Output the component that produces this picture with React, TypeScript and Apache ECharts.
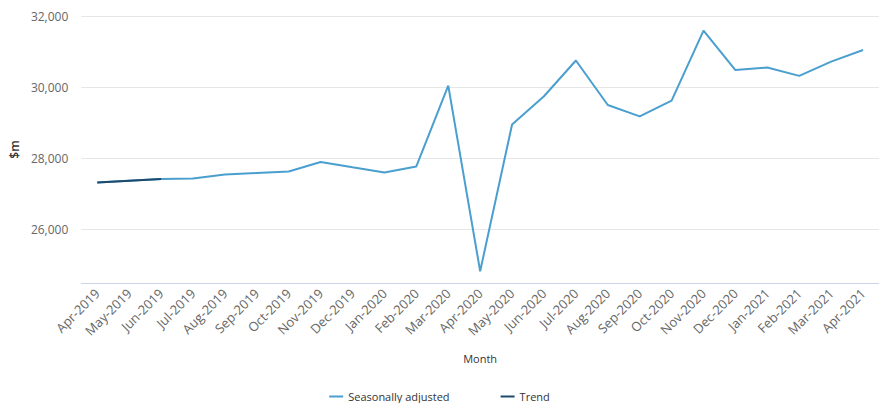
import React, { useEffect, useRef } from "react";
import * as echarts from "echarts";

// Monthly values, $m
const months = [
  "Apr-2019", "May-2019", "Jun-2019", "Jul-2019", "Aug-2019", "Sep-2019",
  "Oct-2019", "Nov-2019", "Dec-2019", "Jan-2020", "Feb-2020", "Mar-2020",
  "Apr-2020", "May-2020", "Jun-2020", "Jul-2020", "Aug-2020", "Sep-2020",
  "Oct-2020", "Nov-2020", "Dec-2020", "Jan-2021", "Feb-2021", "Mar-2021",
  "Apr-2021",
];

const seasonallyAdjusted = [
  27322, 27370, 27418, 27435, 27548, 27590,
  27633, 27898, 27750, 27605, 27774, 30045,
  24831, 28952, 29746, 30751, 29500, 29181,
  29622, 31590, 30480, 30554, 30319, 30720,
  31045,
];

const trend = [27322, 27370, 27418];

const SA_COLOR = "#4a9fcf";
const TREND_COLOR = "#1c4a6e";
const FONT = "'Open Sans', 'Noto Sans', sans-serif";

export default function App() {
  const ref = useRef<HTMLDivElement>(null);

  useEffect(() => {
    if (!ref.current) return;
    const chart = echarts.init(ref.current, undefined, { renderer: "svg" });
    chart.setOption({
      animation: false,
      backgroundColor: "#ffffff",
      textStyle: { fontFamily: FONT },
      grid: { left: 80, top: 16, width: 805, height: 267 },
      legend: {
        top: 386,
        left: "center",
        itemGap: 51,
        itemWidth: 14,
        itemHeight: 2,
        icon: "rect",
        textStyle: { fontFamily: FONT, fontSize: 11, color: "#333" },
        data: [
          { name: "Seasonally adjusted", itemStyle: { color: SA_COLOR } },
          { name: "Trend", itemStyle: { color: TREND_COLOR } },
        ],
      },
      xAxis: {
        type: "category",
        data: months,
        boundaryGap: true,
        name: "Month",
        nameLocation: "middle",
        nameGap: 70,
        nameTextStyle: { fontFamily: FONT, fontSize: 11, color: "#333" },
        axisLine: { lineStyle: { color: "#ccd6eb", width: 1 } },
        axisTick: { show: false },
        axisLabel: {
          rotate: 45,
          interval: 0,
          margin: 8,
          fontFamily: FONT,
          fontSize: 13,
          color: "#666",
        },
      },
      yAxis: {
        type: "value",
        min: 24500,
        max: 32000,
        minInterval: 2000,
        maxInterval: 2000,
        name: "$m",
        nameLocation: "middle",
        nameRotate: 90,
        nameGap: 58,
        nameTextStyle: { fontFamily: FONT, fontSize: 12, color: "#333", fontWeight: 600 },
        axisLine: { show: false },
        axisTick: { show: false },
        axisLabel: {
          showMinLabel: false,
          margin: 13,
          fontFamily: FONT,
          fontSize: 12,
          color: "#666",
          formatter: (v: number) => v.toLocaleString("en-US"),
        },
        splitLine: { lineStyle: { color: "#e6e6e6", width: 1 } },
      },
      series: [
        {
          name: "Seasonally adjusted",
          type: "line",
          data: seasonallyAdjusted,
          symbol: "none",
          lineStyle: { color: SA_COLOR, width: 2 },
          itemStyle: { color: SA_COLOR },
          z: 2,
        },
        {
          name: "Trend",
          type: "line",
          data: trend,
          symbol: "none",
          lineStyle: { color: TREND_COLOR, width: 2 },
          itemStyle: { color: TREND_COLOR },
          z: 3,
        },
      ],
    });
    return () => chart.dispose();
  }, []);

  return (
    <div
      ref={ref}
      style={{ position: "fixed", left: 0, top: 0, width: 879, height: 403 }}
    />
  );
}
